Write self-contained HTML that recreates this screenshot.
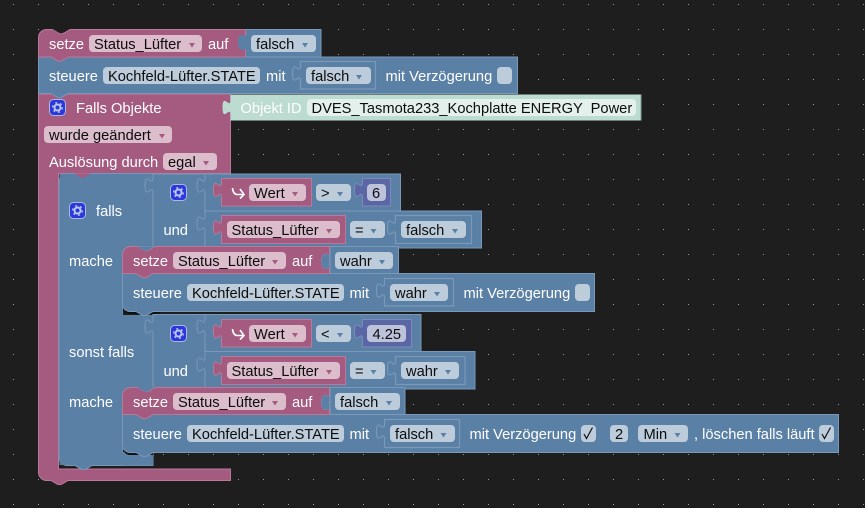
<!DOCTYPE html>
<html><head><meta charset="utf-8"><style>
html,body{margin:0;padding:0;background:#1e1e1e}
svg{display:block}
text{font-family:"Liberation Sans",sans-serif;font-size:14.67px;white-space:pre}
.w{fill:#fff}.k{fill:#0c0c0c}
.p{fill:#a55b80;stroke:#b97a9a;stroke-width:1}
.b{fill:#5b80a5;stroke:#7a98b7;stroke-width:1}
.s{fill:#5b80a5;stroke:#7a98b7;stroke-width:1.2}
.u{fill:#5b67a5;stroke:#7f89bd;stroke-width:1}
.cp{fill:#dbbdcc}.cb{fill:#bdccdb}.cu{fill:#bdc2db}.cg{fill:#e4f0ec}
.ap{fill:#a55b80}.ab{fill:#5b80a5}
</style></head><body>
<svg width="865" height="508" viewBox="0 0 865 508" xmlns="http://www.w3.org/2000/svg">
<defs>
<pattern id="g" x="13" y="4" width="25" height="25" patternUnits="userSpaceOnUse"><rect width="1" height="1" fill="#9a9a9a"/></pattern>
<path id="a" d="M0,0h6l-3,4.5z"/>
<g id="i"><rect x=".5" y=".5" width="16" height="16" rx="4" fill="#2b38dc" stroke="#aab8ea" stroke-width="1"/><circle cx="8.500" cy="8.500" r="3" fill="none" stroke="#bccaf0" stroke-width="2"/><circle cx="8.500" cy="8.500" r="4.800" fill="none" stroke="#bccaf0" stroke-width="1.400" stroke-dasharray="2 3.030"/></g>
<path id="h" d="M0,0c.4,4 2,6.500 5,6.500h6" fill="none" stroke="#fff" stroke-width="1.600"/>
</defs>
<rect width="865" height="508" fill="#1e1e1e"/>
<rect width="865" height="508" fill="url(#g)"/>

<!-- Falls Objekte C block -->
<path class="p" d="M38.500,94H230.500V173.500H58.500V469H230.500V480.500H68l-6,3.500c-2,1-3,1-5,0l-6,-3.500H46.500a8,8 0 0 1 -8,-8Z"/>
<!-- green -->
<path d="M230.500,94.500H641.500V120.500H230.500V115c0,-10 -8,8 -8,-7.500s8,2.500 8,-7.500Z" fill="#bddcd1"/>
<line x1="641" y1="94.500" x2="641" y2="120.500" stroke="#7fa093"/>

<!-- Falls blue -->
<path class="b" d="M67,173.500H74l6,3.500c2,1 3,1 5,0l6,-3.500H153V246.500H122.500V452.500H153V465.500H92l-6,3.500c-2,1-3,1-5,0l-6,-3.500H67a8,8 0 0 1 -8,-8V181.500a8,8 0 0 1 8,-8Z"/>
<rect x="59.500" y="174" width="93" height="72" fill="#5b80a5"/>
<rect x="59.500" y="246" width="63" height="219" fill="#5b80a5"/>
<rect x="60" y="315" width="93" height="73" fill="#5b80a5"/>
<path d="M67,173.500H74l6,3.500c2,1 3,1 5,0l6,-3.500H153" fill="#a55b80"/>
<rect x="62" y="174" width="10" height="8" fill="#5b80a5"/>
<path d="M122.500,452.500H153V465.500H122.500Z" fill="#5b80a5"/>
<rect x="122" y="245" width="12" height="12" fill="#5b80a5"/>
<rect x="122" y="386" width="12" height="12" fill="#5b80a5"/>
<path d="M123,445v3a7,7 0 0 0 7,7h23v-3H123Z" fill="#111"/>
<path d="M123,304v3a7,7 0 0 0 7,7h30v-3H123Z" fill="#111"/>

<!-- row group 1 -->
<path class="b" d="M153,174H400.500V211H153V193c0,-10 -8,8 -8,-7.500s8,2.500 8,-7.500Z"/>
<path class="b" d="M153,211H481.500V248H153Z"/>
<rect x="153.500" y="209" width="51" height="40" fill="#5b80a5"/>
<path d="M205,174.500V178c0,10 -8,-8 -8,7.500s8,-2.500 8,7.500V216c0,10 -8,-8 -8,7.500s8,-2.500 8,7.500V247" fill="none" stroke="#7a98b7"/>
<path class="p" d="M221.500,178.500H311.500V206H221.500V197.500c0,-10 -8,8 -8,-7.500s8,2.500 8,-7.500Z"/>
<path class="u" d="M362.500,178.500H390.500V206H362.500V197.500c0,-10 -8,8 -8,-7.500s8,2.500 8,-7.500Z"/>
<path class="p" d="M221.500,215.500H345.500V243.500H221.500V235c0,-10 -8,8 -8,-7.500s8,2.500 8,-7.500Z"/>
<path class="s" d="M395.500,215.500H471.500V243.500H395.500V235c0,-10 -8,8 -8,-7.500s8,2.500 8,-7.500Z"/>

<!-- mache 1 -->
<path class="b" d="M330,246.500H398.500V273.500H330Z"/>
<path class="b" d="M122.500,273.500H594.500V311.500H153l-6,3.500c-2,1-3,1-5,0l-6,-3.500H130a7.500,7.500 0 0 1 -7.500,-7.500Z"/>
<path class="s" d="M384.500,278.500H453.500V306H384.500V298c0,-10 -8,8 -8,-7.500s8,2.500 8,-7.500Z"/>
<path class="p" d="M130.500,246.500H138l6,3.500c2,1 3,1 5,0l6,-3.500H329.500V273.500H153l-6,3.500c-2,1-3,1-5,0l-6,-3.500H122.500V254.500a8,8 0 0 1 8,-8Z"/>
<path d="M137.500,246.500l6,3.500c2,1 3,1 5,0l6,-3.500Z" fill="#5b80a5"/>
<path d="M329.500,269c0,-3 -8,5 -8,-7.500s8,-5 8,-7.500Z" fill="#5b80a5" stroke="#7a98b7" stroke-width=".5"/>

<!-- row group 2 -->
<path class="b" d="M153,314.500H421V351.500H153V334c0,-10 -8,8 -8,-7.500s8,2.500 8,-7.500Z"/>
<path class="b" d="M153,351.500H475V389H153Z"/>
<rect x="153.500" y="349.500" width="51" height="40" fill="#5b80a5"/>
<path d="M205,315V319c0,10 -8,-8 -8,7.500s8,-2.500 8,7.500V357c0,10 -8,-8 -8,7.500s8,-2.500 8,7.500V388" fill="none" stroke="#7a98b7"/>
<path class="p" d="M221.500,319.500H311.500V347H221.500V339c0,-10 -8,8 -8,-7.500s8,2.500 8,-7.500Z"/>
<path class="u" d="M362.500,319.500H411.500V347H362.500V339c0,-10 -8,8 -8,-7.500s8,2.500 8,-7.500Z"/>
<path class="p" d="M221.500,356.500H345.500V384.500H221.500V376c0,-10 -8,8 -8,-7.500s8,2.500 8,-7.500Z"/>
<path class="s" d="M395.500,356.500H465V384.500H395.500V376c0,-10 -8,8 -8,-7.500s8,2.500 8,-7.500Z"/>

<!-- mache 2 -->
<path class="b" d="M330,387.500H405V414.500H330Z"/>
<path class="b" d="M122.500,414.500H838.500V452.500H153l-6,3.500c-2,1-3,1-5,0l-6,-3.500H130a7.500,7.500 0 0 1 -7.500,-7.500Z"/>
<path class="s" d="M384.500,419.500H459.500V447.500H384.500V439c0,-10 -8,8 -8,-7.500s8,2.500 8,-7.500Z"/>
<path class="p" d="M130.500,387.500H138l6,3.500c2,1 3,1 5,0l6,-3.500H329.500V414.500H153l-6,3.500c-2,1-3,1-5,0l-6,-3.500H122.500V395.500a8,8 0 0 1 8,-8Z"/>
<path d="M137.500,387.500l6,3.500c2,1 3,1 5,0l6,-3.500Z" fill="#5b80a5"/>
<path d="M329.500,410c0,-3 -8,5 -8,-7.500s8,-5 8,-7.500Z" fill="#5b80a5" stroke="#7a98b7" stroke-width=".5"/>

<!-- Top: setze / steuere -->
<path class="b" d="M38.500,57H517.500V93.500H68l-6,3.500c-2,1-3,1-5,0l-6,-3.500H38.500Z"/>
<path class="s" d="M300.500,61.500H375.500V89H300.500V81c0,-10 -8,8 -8,-7.500s8,2.500 8,-7.500Z"/>
<path class="b" d="M245.500,29.500H321V57H245.500Z"/>
<path class="p" d="M46.500,29.500H53l6,3.500c2,1 3,1 5,0l6,-3.500H245.500V57H68l-6,3.500c-2,1-3,1-5,0l-6,-3.500H38.500V37.500a8,8 0 0 1 8,-8Z"/>
<path d="M52.500,29l6,3.500c2,1 3,1 5,0l6,-3.500Z" fill="#1e1e1e"/>
<path d="M246,50c0,-3 -8,5 -8,-7.500s8,-5 8,-7.500Z" fill="#5b80a5"/>

<!-- row 1 -->
<text class="w" x="49" y="49">setze</text>
<rect class="cp" x="89" y="35" width="113" height="17" rx="4"/><text class="k" x="94" y="49">Status_Lüfter</text><use href="#a" class="ap" x="189" y="43"/>
<text class="w" x="208" y="49">auf</text>
<rect class="cb" x="251" y="35" width="65" height="17" rx="4"/><text class="k" x="256" y="49">falsch</text><use href="#a" class="ab" x="302" y="43"/>

<!-- row 2 -->
<text class="w" x="49" y="81">steuere</text>
<rect class="cb" x="103" y="67" width="157" height="17" rx="4"/><text class="k" x="108" y="81">Kochfeld-Lüfter.STATE</text>
<text class="w" x="266" y="81">mit</text>
<rect class="cb" x="306" y="67" width="65" height="17" rx="4"/><text class="k" x="311" y="81">falsch</text><use href="#a" class="ab" x="356" y="75"/>
<text class="w" x="385.500" y="81">mit Verzögerung</text>
<rect class="cb" x="497" y="67" width="15" height="17" rx="4"/>

<!-- Falls Objekte -->
<use href="#i" x="49" y="99"/>
<text class="w" x="76" y="113">Falls Objekte</text>
<text x="240.500" y="113" fill="#fff">Objekt ID</text>
<rect class="cg" x="307" y="99" width="329" height="17" rx="4"/><text class="k" x="311.500" y="113">DVES_Tasmota233_Kochplatte ENERGY  Power</text>
<rect class="cp" x="44" y="126" width="128" height="17" rx="4"/><text class="k" x="49" y="140">wurde geändert</text><use href="#a" class="ap" x="159" y="134"/>
<text class="w" x="49" y="167">Auslösung durch</text>
<rect class="cp" x="163" y="153" width="54" height="17" rx="4"/><text class="k" x="168" y="167">egal</text><use href="#a" class="ap" x="203" y="161"/>

<!-- falls -->
<use href="#i" x="69" y="202"/>
<text class="w" x="96" y="216">falls</text>
<use href="#i" x="170" y="184"/>
<use href="#h" x="232.500" y="188"/><path d="M240,189l4,5.500-4,4" fill="none" stroke="#fff" stroke-width="1.600"/>
<rect class="cp" x="249" y="184" width="57" height="17" rx="4"/><text class="k" x="254" y="198">Wert</text><use href="#a" class="ap" x="292" y="192"/>
<rect class="cb" x="316" y="184" width="35" height="17" rx="4"/><text class="k" x="321" y="198">&gt;</text><use href="#a" class="ab" x="337" y="192"/>
<rect class="cu" x="367" y="184" width="19" height="17" rx="4"/><text class="k" x="372" y="198">6</text>

<text class="w" x="163.500" y="235">und</text>
<rect class="cp" x="227" y="221" width="113" height="17" rx="4"/><text class="k" x="231.500" y="235">Status_Lüfter</text><use href="#a" class="ap" x="326" y="229"/>
<rect class="cb" x="350" y="221" width="35" height="17" rx="4"/><text class="k" x="355" y="235">=</text><use href="#a" class="ab" x="370.500" y="229"/>
<rect class="cb" x="401" y="221" width="65" height="17" rx="4"/><text class="k" x="406" y="235">falsch</text><use href="#a" class="ab" x="452" y="229"/>

<text class="w" x="69" y="266">mache</text>
<text class="w" x="133" y="266">setze</text>
<rect class="cp" x="173" y="252" width="113" height="17" rx="4"/><text class="k" x="178" y="266">Status_Lüfter</text><use href="#a" class="ap" x="272" y="260"/>
<text class="w" x="292" y="266">auf</text>
<rect class="cb" x="335" y="252" width="58" height="17" rx="4"/><text class="k" x="340" y="266">wahr</text><use href="#a" class="ab" x="379" y="260"/>

<text class="w" x="133" y="298">steuere</text>
<rect class="cb" x="187" y="284" width="157" height="17" rx="4"/><text class="k" x="192" y="298">Kochfeld-Lüfter.STATE</text>
<text class="w" x="349.500" y="298">mit</text>
<rect class="cb" x="390" y="284" width="58" height="17" rx="4"/><text class="k" x="395" y="298">wahr</text><use href="#a" class="ab" x="434" y="292"/>
<text class="w" x="463.500" y="298">mit Verzögerung</text>
<rect class="cb" x="575" y="284" width="15" height="17" rx="4"/>

<!-- sonst falls -->
<use href="#i" x="170" y="325"/>
<use href="#h" x="232.500" y="329"/><path d="M240,330l4,5.500-4,4" fill="none" stroke="#fff" stroke-width="1.600"/>
<rect class="cp" x="249" y="325" width="57" height="17" rx="4"/><text class="k" x="254" y="339">Wert</text><use href="#a" class="ap" x="292" y="333"/>
<rect class="cb" x="316" y="325" width="35" height="17" rx="4"/><text class="k" x="321" y="339">&lt;</text><use href="#a" class="ab" x="337" y="333"/>
<rect class="cu" x="367" y="325" width="39" height="17" rx="4"/><text class="k" x="372.500" y="339">4.25</text>

<text class="w" x="69" y="357">sonst falls</text>
<text class="w" x="163.500" y="376">und</text>
<rect class="cp" x="227" y="362" width="113" height="17" rx="4"/><text class="k" x="231.500" y="376">Status_Lüfter</text><use href="#a" class="ap" x="326" y="370"/>
<rect class="cb" x="350" y="362" width="35" height="17" rx="4"/><text class="k" x="355" y="376">=</text><use href="#a" class="ab" x="370.500" y="370"/>
<rect class="cb" x="401" y="362" width="58" height="17" rx="4"/><text class="k" x="406" y="376">wahr</text><use href="#a" class="ab" x="445" y="370"/>

<text class="w" x="69" y="407">mache</text>
<text class="w" x="133" y="407">setze</text>
<rect class="cp" x="173" y="393" width="113" height="17" rx="4"/><text class="k" x="178" y="407">Status_Lüfter</text><use href="#a" class="ap" x="272" y="401"/>
<text class="w" x="292" y="407">auf</text>
<rect class="cb" x="335" y="393" width="65" height="17" rx="4"/><text class="k" x="340" y="407">falsch</text><use href="#a" class="ab" x="386" y="401"/>

<text class="w" x="133" y="439">steuere</text>
<rect class="cb" x="187" y="425" width="157" height="17" rx="4"/><text class="k" x="192" y="439">Kochfeld-Lüfter.STATE</text>
<text class="w" x="349.500" y="439">mit</text>
<rect class="cb" x="390" y="425" width="65" height="17" rx="4"/><text class="k" x="395" y="439">falsch</text><use href="#a" class="ab" x="440.500" y="433"/>
<text class="w" x="469.500" y="439">mit Verzögerung</text>
<rect class="cb" x="581" y="425" width="15" height="17" rx="4"/><path d="M584,434l2.500,4.500 6,-11" fill="none" stroke="#111" stroke-width="1.200"/>
<rect class="cb" x="610" y="425" width="18" height="17" rx="4"/><text class="k" x="615" y="439">2</text>
<rect class="cb" x="638" y="425" width="50" height="17" rx="4"/><text class="k" x="643.500" y="439">Min</text><use href="#a" class="ab" x="674.500" y="433"/>
<text class="w" x="694" y="439">, löschen falls läuft</text>
<rect class="cb" x="819" y="425" width="15" height="17" rx="4"/><path d="M822,434l2.500,4.500 6,-11" fill="none" stroke="#111" stroke-width="1.200"/>
</svg>
</body></html>
